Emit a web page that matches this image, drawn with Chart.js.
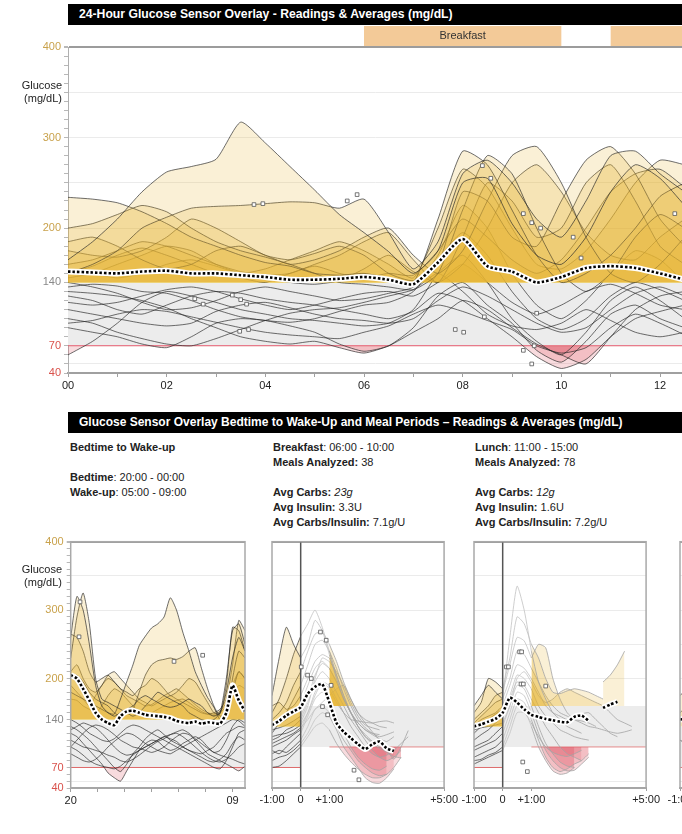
<!DOCTYPE html>
<html>
<head>
<meta charset="utf-8">
<script src="https://cdn.jsdelivr.net/npm/chart.js@4.4.1/dist/chart.umd.min.js"></script>
<style>
  body { margin: 0; background: #fff; }
  #wrap { position: relative; width: 682px; height: 834px; overflow: hidden; font-family: "Liberation Sans", Arial, sans-serif; color: #222; }
  canvas { position: absolute; }
  .bar { position: absolute; left: 68px; width: 614px; height: 21px; line-height: 21px; background: #000; color: #fff; font-weight: bold; padding-left: 11px; box-sizing: border-box; white-space: nowrap; }
  .ylab { position: absolute; right: 620px; text-align: right; font-size: 11px; line-height: 13px; }
  .info { position: absolute; font-size: 11px; line-height: 15px; white-space: nowrap; }
</style>
</head>
<body>
<div id="wrap">
  <canvas id="day" width="687" height="400" style="left:0;top:0"></canvas>
  <div class="bar" style="top:4px;font-size:12.2px">24-Hour Glucose Sensor Overlay - Readings &amp; Averages (mg/dL)</div>
  <div class="ylab" style="top:79px">Glucose<br>(mg/dL)</div>

  <div class="bar" style="top:412px;font-size:12px">Glucose Sensor Overlay Bedtime to Wake-Up and Meal Periods – Readings &amp; Averages (mg/dL)</div>
  <div class="info" style="left:70px;top:440px"><b>Bedtime to Wake-up</b><br><br><b>Bedtime</b>: 20:00 - 00:00<br><b>Wake-up</b>: 05:00 - 09:00</div>
  <div class="info" style="left:273px;top:440px"><b>Breakfast</b>: 06:00 - 10:00<br><b>Meals Analyzed:</b> 38<br><br><b>Avg Carbs:</b> <i>23g</i><br><b>Avg Insulin:</b> 3.3U<br><b>Avg Carbs/Insulin:</b> 7.1g/U</div>
  <div class="info" style="left:475px;top:440px"><b>Lunch</b>: 11:00 - 15:00<br><b>Meals Analyzed:</b> 78<br><br><b>Avg Carbs:</b> <i>12g</i><br><b>Avg Insulin:</b> 1.6U<br><b>Avg Carbs/Insulin:</b> 7.2g/U</div>

  <canvas id="bed" width="258" height="280" style="left:0;top:530px"></canvas>
  <canvas id="breakfast" width="210" height="280" style="left:250px;top:530px"></canvas>
  <canvas id="lunch" width="210" height="280" style="left:452px;top:530px"></canvas>
  <canvas id="dinner" width="210" height="280" style="left:654px;top:530px"></canvas>
  <div class="ylab" style="top:563px">Glucose<br>(mg/dL)</div>
</div>

<script>
const FONT = '"Liberation Sans", Arial, sans-serif'
Chart.defaults.font.family = FONT

/* 24 hour overlay */
const dayHours = [0,0.5,1,1.5,2,2.5,3,3.5,4,4.5,5,5.5,6,6.5,7,7.5,8,8.5,9,9.5,10,10.5,11,11.5,12,12.5]
const dayCurves = [
  [165,185,210,240,262,268,276,317,294,268,242,215,195,174,150,175,250,255,205,170,160,190,240,270,255,225],
  [150,160,175,200,212,222,224,225,227,229,228,222,232,195,155,185,260,275,250,210,190,230,280,285,260,240],
  [234,232,228,218,205,190,180,170,162,158,150,148,150,145,140,210,285,270,220,170,140,150,170,200,235,250],
  [200,205,215,225,218,200,185,175,168,160,150,140,138,135,132,150,220,280,260,200,150,130,150,190,215,200],
  [185,190,180,165,155,160,175,180,170,160,165,175,190,200,170,150,175,230,280,290,250,190,150,140,160,190],
  [175,170,168,175,190,210,200,185,170,165,172,180,170,150,142,160,240,230,190,180,230,275,290,260,210,180],
  [160,165,175,185,180,170,160,152,148,150,160,170,185,195,165,140,190,250,230,190,200,250,270,230,180,160],
  [150,158,170,178,170,160,150,145,140,150,158,150,145,150,148,175,210,190,165,150,165,200,240,260,265,245],
  [145,150,160,170,180,175,160,150,145,140,138,142,155,170,152,140,160,200,250,270,240,195,170,165,190,210],
  [155,150,145,150,160,165,158,150,155,165,175,185,175,160,145,200,265,245,200,160,155,175,210,250,275,270],
  [60,75,95,118,130,125,118,110,105,100,98,95,92,95,110,150,170,140,100,75,60,85,120,135,120,100],
  [90,85,80,72,68,80,95,100,98,92,85,72,64,70,90,125,140,115,95,65,52,75,105,115,100,90],
  [130,128,125,120,112,100,90,80,75,72,75,68,62,70,85,100,120,110,90,72,60,50,80,110,125,130],
  [110,105,100,95,92,95,108,115,118,112,105,100,98,95,100,120,135,125,110,95,85,90,110,128,135,125],
  [135,138,136,130,128,120,110,102,98,96,100,108,115,118,130,165,195,170,130,100,88,100,125,140,132,120],
  [100,95,85,78,72,70,78,88,98,106,110,112,118,125,132,150,130,105,92,88,95,110,98,85,80,85],
  [125,120,110,105,115,125,130,128,122,118,115,110,105,100,108,128,120,100,80,58,45,55,80,100,108,115],
  [118,115,118,125,132,135,130,122,115,110,115,122,128,130,125,140,160,140,118,105,115,130,138,128,115,110],
  [95,98,105,110,108,102,96,90,85,82,80,78,85,92,105,115,108,98,88,70,62,68,90,105,95,82],
  [140,135,128,118,110,112,120,130,135,130,125,120,122,128,135,170,225,200,150,115,100,120,150,175,165,140]
]
const dayMean = [152,151,150,152,153,150,150,148,146,143,143,144,146,143,138,162,188,158,152,140,146,156,158,156,150,143]
const dayMarkX = [2.57,2.74,3.33,3.5,3.62,3.48,3.66,3.77,3.95,5.66,5.86,7.85,8.02,8.44,8.4,8.57,9.23,9.4,9.58,9.5,10.24,10.4,9.23,9.45,9.4,12.3]
const dayMarkY = [122,116,126,121,116,86,88,226,227,230,237,88,85,102,269,255,216,206,200,106,190,167,65,70,50,216]
const mealNames = ['Breakfast', 'Lunch']
const mealStart = [6, 11]
const mealEnd = [10, 15]

/* bedtime to wake-up, hours after 20:00 */
const bedHours = [0,0.5,1,1.5,2,2.5,3,3.5,4,4.5,5,5.5,6,6.5,7,7.5,8,8.5,9,9.5,10,10.5,11,11.5,12,12.5,13,13.5,14]
const bedCurves = [
  [260,320,300,250,190,160,150,145,150,155,160,170,175,170,165,160,158,160,165,170,165,160,150,145,150,180,230,260,240],
  [230,290,325,280,200,170,165,160,155,150,145,150,160,170,180,175,170,165,160,150,145,140,138,140,150,200,270,280,250],
  [180,175,170,165,160,155,150,148,170,195,220,248,262,274,280,290,318,300,268,240,210,190,172,158,140,145,200,240,230],
  [200,205,195,180,170,165,160,150,145,150,155,180,205,220,226,228,230,228,232,240,245,215,185,160,145,150,180,210,200],
  [265,260,240,210,195,200,205,195,185,180,175,185,190,200,195,185,175,180,190,200,195,180,165,150,148,190,275,270,240],
  [210,220,200,185,180,190,205,210,200,190,180,170,165,160,165,170,175,170,165,160,155,150,148,150,155,170,220,285,270],
  [190,180,170,160,175,190,200,195,185,175,170,165,160,162,168,175,180,185,178,170,162,155,150,148,152,165,190,210,200],
  [170,168,160,155,150,160,175,185,180,170,160,152,148,150,155,160,165,168,170,165,158,152,148,146,150,160,175,190,185],
  [120,115,105,95,85,75,62,55,50,65,80,95,105,110,108,100,95,98,105,110,115,110,100,92,95,110,130,140,135],
  [130,125,118,110,100,90,80,70,64,75,90,100,112,120,125,118,110,105,100,95,92,90,95,100,110,120,125,130,128],
  [100,110,120,128,132,130,125,118,110,105,100,98,95,92,95,100,108,115,120,118,110,100,90,85,80,75,70,65,72],
  [140,135,128,120,115,110,108,112,120,128,132,130,125,120,115,110,105,100,95,90,85,80,75,70,68,80,100,120,125],
  [90,85,80,78,82,90,100,108,115,120,118,112,105,100,95,92,90,95,100,105,110,115,120,125,130,135,140,138,130],
  [110,105,100,98,95,92,88,85,80,78,82,88,95,102,108,112,118,122,125,120,112,105,98,92,88,85,82,78,75],
  [125,130,135,132,128,120,110,100,92,88,90,95,100,105,110,115,118,120,115,108,100,92,85,80,78,82,90,100,105],
  [100,95,88,80,75,72,70,68,72,80,88,95,100,105,110,115,112,108,100,95,90,85,80,78,82,90,105,115,110]
]
const bedMean = [205,200,185,168,150,140,135,132,145,152,153,150,147,146,145,144,142,138,136,135,137,134,136,135,134,150,190,168,152]
const bedMarkX = [0.67,0.75,8.3,10.6]
const bedMarkY = [261,312,225,234]
const bedTickVals = [0,2.1667,4.3333,6.5,8.6667,10.8333,13]
const bedTickText = ['20','','','','','','09']

/* meal periods, hours from meal start */
const mealHours = [-1,-0.75,-0.5,-0.25,0,0.25,0.5,0.75,1,1.25,1.5,1.75,2,2.25,2.5,2.75,3,3.25,3.5,3.75,4,4.25,4.5]
const mealTickVals = [-1,0,1,5]
const mealTickText = ['-1:00','0','+1:00','+5:00']
const _ = null
const breakfastCurves = [
  [175,230,275,250,230,250,285,270,235,200,170,150,135,125,120,118,_,_,_,_,_,_,_],
  [150,170,200,235,262,280,300,275,240,205,175,150,130,115,108,112,_,_,_,_,_,_,_],
  [140,150,165,190,210,240,265,268,250,225,195,170,150,140,135,130,128,_,_,_,_,_,_],
  [120,135,150,170,190,220,250,256,240,215,185,160,140,128,120,115,118,122,_,_,_,_,_],
  [160,165,155,160,175,200,225,235,230,205,175,150,130,115,105,98,95,_,_,_,_,_,_],
  [130,135,140,150,160,190,215,225,215,195,170,150,135,125,118,112,108,115,_,_,_,_,_],
  [110,115,125,130,140,165,195,210,200,180,160,140,125,110,95,85,80,85,95,_,_,_,_],
  [100,105,110,118,125,150,175,195,190,170,150,130,115,100,90,85,88,95,105,115,_,_,_],
  [95,90,100,110,120,145,170,180,170,145,120,100,85,75,68,66,72,_,_,_,_,_,_],
  [90,95,92,100,110,130,155,160,150,130,110,95,80,70,62,58,60,_,_,_,_,_,_],
  [80,85,88,95,105,120,140,150,145,125,100,85,70,55,48,47,55,68,_,_,_,_,_],
  [70,72,80,90,100,115,130,135,125,105,90,78,68,60,55,55,60,70,85,_,_,_,_],
  [105,110,115,120,128,140,155,165,175,185,190,170,150,135,122,110,96,82,100,124,_,_,_],
  [_,_,_,_,135,160,200,230,225,210,190,165,145,132,128,125,_,_,_,_,_,_,_],
  [115,118,120,125,132,150,180,195,185,165,150,140,138,136,135,137,138,135,_,_,_,_,_],
  [125,128,132,138,145,170,205,222,215,195,170,150,130,118,108,100,92,86,84,_,_,_,_]
]
const breakfastMean = [132,138,146,152,158,178,188,192,165,135,122,113,104,97,104,108,98,94,_,_,_,_,_]
const breakfastMarkX = [0.69,0.89,0.02,0.24,0.37,1.06,0.76,0.94,1.86,2.03]
const breakfastMarkY = [268,256,217,205,200,190,159,147,66,52]

const lunchCurves = [
  [160,175,190,180,170,260,335,300,240,195,170,150,140,130,125,120,_,_,_,_,_,_,_],
  [150,165,200,195,185,230,290,280,250,230,200,180,178,182,185,183,180,175,170,_,_,_,_],
  [140,150,160,175,180,220,260,255,230,250,245,200,170,150,140,135,130,128,125,122,120,122,125],
  [135,145,155,165,170,200,240,235,215,195,175,160,150,145,140,138,135,130,_,_,_,_,_],
  [130,140,145,150,160,190,220,215,200,180,160,150,145,140,142,148,150,140,130,120,115,_,_],
  [120,130,140,148,155,175,205,200,185,160,145,135,125,120,115,112,110,_,_,_,_,_,_],
  [110,118,125,135,145,170,195,190,170,150,130,115,100,90,85,80,_,_,_,_,_,_,_],
  [100,105,110,120,130,160,190,185,160,130,105,90,78,72,70,_,_,_,_,_,_,_,_],
  [95,100,105,110,120,150,180,175,150,120,95,80,70,65,66,75,85,_,_,_,_,_,_],
  [85,90,95,100,110,140,170,165,140,110,85,70,64,68,75,80,90,_,_,_,_,_,_],
  [80,82,88,92,100,130,160,155,130,100,80,65,60,62,70,_,_,_,_,_,_,_,_],
  [75,80,85,90,95,120,150,150,135,115,100,92,88,86,90,95,_,_,_,_,_,_,_],
  [_,_,_,_,_,_,_,_,_,_,_,_,_,_,_,_,_,_,195,205,220,240,_],
  [125,128,130,132,135,160,200,210,195,175,165,170,180,185,180,175,170,165,160,150,140,135,130]
]
const lunchMean = [130,133,137,141,150,172,165,155,147,144,141,139,137,136,144,146,138,_,157,162,166,_,_]
const lunchMarkX = [0.59,0.66,0.13,0.2,0.64,0.72,1.5,0.86,0.7]
const lunchMarkY = [239,239,217,217,192,192,189,64,78]

const dinnerCurves = [
  [175,185,190,180,170],
  [150,160,170,175,165],
  [110,105,115,120,125]
]
const dinnerMean = [140,142,145,148,150]

/* styling */
const GOLD = 'rgba(232,178,50,0.2)'
const PINK = 'rgba(222,90,105,0.22)'
const NONE = 'rgba(0,0,0,0)'
const GRAYBAND = '#ececec'
const RED = '#e38a8a'
const yLabels = [400, 300, 200, 140, 70, 40]
const yGrid = [50, 200, 250, 300, 350]
const yTicks = []
for (let v = 40; v <= 400; v += 10) yTicks.push(v)
const yColor = v => v >= 200 ? '#c9a24c' : v == 140 ? '#8a8a8a' : '#d9524c'

const pts = (xs, ys, a = -99, b = 99) => xs.map((x, i) => ({ x: x, y: (x >= a && x <= b && ys[i] != null) ? ys[i] : null }))

function curve(data, color, hi, lo) {
  const sets = [{ data: data, borderColor: color, borderWidth: 0.8, pointRadius: 0, tension: 0.2,
    fill: hi == null ? false : { target: { value: hi }, above: GOLD, below: NONE }, order: 10 }]
  if (lo != null) sets.push({ data: data, borderColor: NONE, borderWidth: 0, pointRadius: 0, tension: 0.2,
    fill: { target: { value: lo }, above: NONE, below: PINK }, order: 11 })
  return sets
}
const band = (x0, x1, top, bottom) => ({ data: [{ x: x0, y: top }, { x: x1, y: top }], borderWidth: 0, borderColor: NONE, pointRadius: 0,
  fill: { target: { value: bottom }, above: GRAYBAND, below: GRAYBAND }, order: 50 })
const hline = (x0, x1, y, color, w) => ({ data: [{ x: x0, y: y }, { x: x1, y: y }], borderColor: color, borderWidth: w || 1, pointRadius: 0, fill: false, order: 40 })
const meanSets = data => [
  { data: data, borderColor: '#fff', borderWidth: 6, pointRadius: 0, tension: 0.2, fill: false, order: 2 },
  { data: data, borderColor: '#000', borderWidth: 2.6, borderDash: [2.5, 2], pointRadius: 0, tension: 0.2, fill: false, order: 1 }
]
const marks = (xs, ys) => ({ data: xs.map((x, i) => ({ x: x, y: ys[i] })), showLine: false, pointStyle: 'rect', pointRadius: 2.6,
  pointBackgroundColor: '#fff', pointBorderColor: '#555', pointBorderWidth: 0.8, order: 0 })

function yScale(labels, width) {
  return {
    min: 40, max: 400,
    afterBuildTicks: s => { s.ticks = yTicks.map(v => ({ value: v })) },
    afterFit: s => { s.width = width },
    ticks: { display: labels, autoSkip: false, padding: 3, font: { size: 11 }, color: c => yColor(c.tick.value),
      callback: v => yLabels.includes(v) ? v : '' },
    grid: { color: c => c.tick.value == 400 ? '#9c9c9c' : yGrid.includes(c.tick.value) ? '#ebebeb' : NONE,
      lineWidth: c => c.tick.value == 400 ? 2 : 1, tickLength: 4, tickColor: '#b8b8b8', drawTicks: labels },
    border: { display: labels, color: '#b0b0b0' }
  }
}
function xScale(min, max, vals, text, height, tickLen) {
  return {
    type: 'linear', min: min, max: max,
    afterBuildTicks: s => { s.ticks = vals.map(v => ({ value: v })) },
    afterFit: s => { s.height = height },
    ticks: { autoSkip: false, maxRotation: 0, padding: 2, font: { size: 11 }, color: '#222',
      callback: (v, i) => text[i] },
    grid: { drawOnChartArea: false, tickLength: tickLen, tickColor: '#a0a0a0' },
    border: { color: '#a0a0a0', width: 2 }
  }
}
const baseOptions = (x, y, padding) => ({
  responsive: false, animation: false, devicePixelRatio: 1,
  layout: { padding: padding },
  plugins: { legend: { display: false }, tooltip: { enabled: false } },
  scales: { x: x, y: y }
})

// frame around the small panels
const boxPlugin = { id: 'box', afterDatasetsDraw(chart) {
  const a = chart.chartArea, c = chart.ctx
  c.save(); c.strokeStyle = '#a9a9a9'; c.lineWidth = 1.5
  c.strokeRect(a.left, a.top, a.right - a.left, a.bottom - a.top); c.restore()
} }
// meal period bars above the 24 hour plot
const mealBars = { id: 'mealBars', afterDraw(chart) {
  const x = chart.scales.x, a = chart.chartArea, c = chart.ctx
  c.save()
  mealNames.forEach((name, i) => {
    const x0 = x.getPixelForValue(mealStart[i]), x1 = x.getPixelForValue(mealEnd[i])
    c.fillStyle = '#f3ca98'; c.fillRect(x0, a.top - 21, Math.min(x1, a.right) - x0, 20)
    c.fillStyle = '#333'; c.font = '11px ' + FONT; c.textAlign = 'center'; c.textBaseline = 'middle'
    c.fillText(name, (x0 + x1) / 2, a.top - 11)
  })
  c.restore()
} }

//24 hour chart
const daySets = [band(0, 12.45, 140, 70), hline(0, 12.45, 70, RED)]
dayCurves.forEach(c => daySets.push(...curve(pts(dayHours, c), 'rgba(40,40,40,0.85)', 140, 70)))
daySets.push(...meanSets(pts(dayHours, dayMean)), marks(dayMarkX, dayMarkY))
const dayTicks = [0,1,2,3,4,5,6,7,8,9,10,11,12]
const dayTickText = ['00','','02','','04','','06','','08','','10','','12']
new Chart(document.getElementById('day'), {
  type: 'line',
  data: { datasets: daySets },
  options: baseOptions(xScale(0, 12.45, dayTicks, dayTickText, 27, 4), yScale(true, 68), { top: 47, right: 0, left: 0, bottom: 0 }),
  plugins: [mealBars]
})

//bedtime chart
const bedSets = [band(0, 14, 140, 70), hline(0, 14, 70, RED)]
bedCurves.forEach(c => bedSets.push(...curve(pts(bedHours, c), 'rgba(40,40,40,0.85)', 140, 70)))
bedSets.push(...meanSets(pts(bedHours, bedMean)), marks(bedMarkX, bedMarkY))
new Chart(document.getElementById('bed'), {
  type: 'line',
  data: { datasets: bedSets },
  options: baseOptions(xScale(0, 14, bedTickVals, bedTickText, 22, 4), yScale(true, 70.7), { top: 11.7, right: 13, left: 0, bottom: 0 }),
  plugins: [boxPlugin]
})

//meal charts
function mealChart(id, curves, mean, mx, my, left) {
  const sets = [band(-1, 0, 130, 70), band(0, 5, 160, 100), hline(-1, 0, 70, RED), hline(1, 5, 100, RED)]
  sets.push({ data: [{ x: 0, y: 40 }, { x: 0, y: 400 }], borderColor: '#555', borderWidth: 1.5, pointRadius: 0, fill: false, order: 3 })
  curves.forEach(c => {
    sets.push(...curve(pts(mealHours, c, -1, 0), 'rgba(40,40,40,0.85)', 130, 70))
    sets.push(...curve(pts(mealHours, c, 0, 1), '#c2c2c2', null, null))
    sets.push(...curve(pts(mealHours, c, 1, 5), '#a3a3a3', 160, 100))
  })
  sets.push(...meanSets(pts(mealHours, mean)))
  if (mx) sets.push(marks(mx, my))
  new Chart(document.getElementById(id), {
    type: 'line',
    data: { datasets: sets },
    options: baseOptions(xScale(-1, 5, mealTickVals, mealTickText, 22, 3), yScale(false, left), { top: 11.7, right: 14, left: 0, bottom: 0 }),
    plugins: [boxPlugin]
  })
}
mealChart('breakfast', breakfastCurves, breakfastMean, breakfastMarkX, breakfastMarkY, 22)
mealChart('lunch', lunchCurves, lunchMean, lunchMarkX, lunchMarkY, 22)
mealChart('dinner', dinnerCurves, dinnerMean, null, null, 26)
</script>
</body>
</html>
